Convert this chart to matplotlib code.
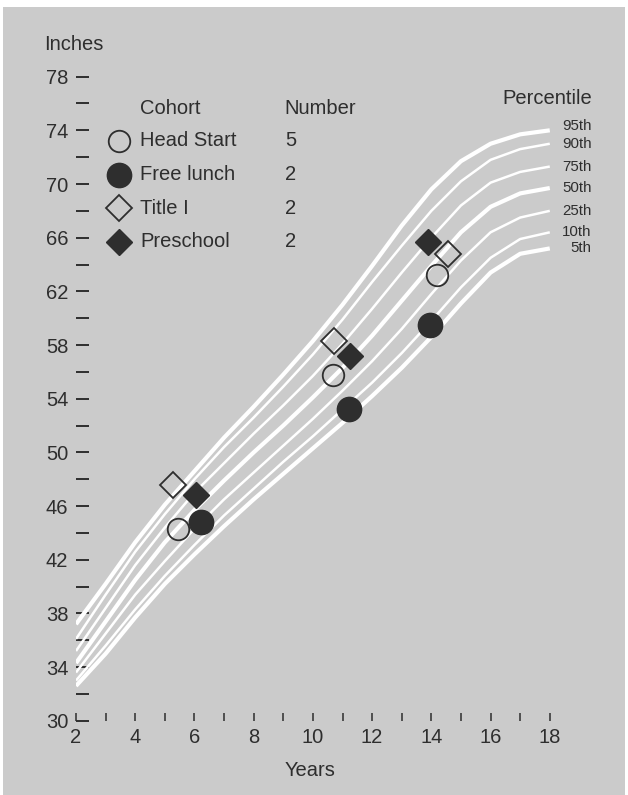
import numpy as np
import matplotlib
matplotlib.use("Agg")
import matplotlib.pyplot as plt
from matplotlib.patches import Rectangle

plt.rcParams["font.family"] = ["Liberation Sans", "DejaVu Sans"]

# growth reference curves (inches)
ages = [2, 3, 4, 5, 6, 7, 8, 9, 10, 11, 12, 13, 14, 15, 16, 17, 18]
pct_labels = ["95th", "90th", "75th", "50th", "25th", "10th", "5th"]
p95 = [37.2, 40.2, 43.3, 46.1, 48.6, 51.1, 53.4, 55.8, 58.3, 61.0, 63.9, 66.9, 69.6, 71.7, 73.0, 73.7, 74.0]
p90 = [36.1, 39.4, 42.6, 45.4, 48.0, 50.4, 52.6, 54.9, 57.3, 59.9, 62.7, 65.4, 68.0, 70.2, 71.8, 72.6, 73.0]
p75 = [35.2, 38.4, 41.6, 44.4, 47.0, 49.2, 51.4, 53.5, 55.7, 58.1, 60.7, 63.4, 66.0, 68.4, 70.1, 70.9, 71.3]
p50 = [34.3, 37.4, 40.5, 43.3, 45.7, 47.9, 50.0, 52.0, 54.1, 56.3, 58.7, 61.3, 63.9, 66.4, 68.3, 69.3, 69.7]
p25 = [33.6, 36.5, 39.4, 41.9, 44.3, 46.5, 48.5, 50.5, 52.5, 54.6, 56.8, 59.2, 61.8, 64.3, 66.4, 67.5, 68.0]
p10 = [33.0, 35.6, 38.3, 40.8, 43.1, 45.3, 47.3, 49.3, 51.2, 53.2, 55.2, 57.4, 59.8, 62.3, 64.5, 65.9, 66.4]
p05 = [32.6, 35.0, 37.7, 40.2, 42.4, 44.5, 46.5, 48.4, 50.3, 52.2, 54.2, 56.3, 58.6, 61.1, 63.4, 64.8, 65.2]

# cohorts: (age, height) at the three measurement points
cohorts = ["Head Start", "Free lunch", "Title I", "Preschool"]
counts = [5, 2, 2, 2]
hs_age = [5.45, 10.68, 14.20]
hs_ht = [44.3, 55.8, 63.2]
fl_age = [6.22, 11.22, 13.96]
fl_ht = [44.8, 53.2, 59.5]
t1_age = [5.28, 10.72, 14.57]
t1_ht = [47.6, 58.3, 64.8]
ps_age = [6.05, 11.26, 13.89]
ps_ht = [46.8, 57.2, 65.7]

BG = "#cbcbcb"
INK = "#2e2e2e"
W, H = 628, 795

def fx(px):
    return px / W

def fy(py):
    return 1 - py / H

fig = plt.figure(figsize=(W / 100, H / 100), dpi=100, facecolor="white")
fig.patches.append(Rectangle((fx(3), 0), fx(622), fy(7), transform=fig.transFigure,
                             facecolor=BG, edgecolor="none", zorder=-10))

ax = fig.add_axes([fx(76), fy(720.8), fx(609 - 76), (720.8 - 49.8) / H])
ax.patch.set_visible(False)
ax.set_xlim(2, 20)
ax.set_ylim(30, 80)
for s in ax.spines.values():
    s.set_visible(False)

curves = [p95, p90, p75, p50, p25, p10, p05]
widths = [3.0, 1.8, 1.8, 3.0, 1.8, 1.8, 3.0]
label_nudge = [0.3, 0.0, 0.0, 0.0, 0.0, 0.0, 0.0]  # keeps the top two labels apart
for vals, lw, lab, dy in zip(curves, widths, pct_labels, label_nudge):
    ax.plot(ages, vals, color="white", lw=lw, solid_capstyle="butt",
            solid_joinstyle="round", zorder=2)
    ax.text(19.42, vals[-1] + dy, lab, ha="right", va="center", fontsize=10.8,
            color=INK)
ax.text(19.42, 76.4, "Percentile", ha="right", va="center", fontsize=14.5, color=INK)

open_kw = dict(mfc="none", mec=INK, mew=1.3, ls="none", zorder=3)
fill_kw = dict(mfc=INK, mec=INK, mew=1.0, ls="none", zorder=3)
ax.plot(hs_age, hs_ht, marker="o", ms=15.5, **open_kw)
ax.plot(fl_age, fl_ht, marker="o", ms=17.5, **fill_kw)
ax.plot(t1_age, t1_ht, marker="D", ms=13.0, **open_kw)
ax.plot(ps_age, ps_ht, marker="D", ms=13.0, **fill_kw)

ax.set_xticks(np.arange(2, 19, 2))
ax.set_xticks(np.arange(3, 18, 2), minor=True)
ax.set_yticks(np.arange(30, 79, 4))
ax.set_yticks(np.arange(32, 77, 4), minor=True)
ax.tick_params(axis="x", which="both", direction="in", length=6, width=1.1,
               color=INK, labelsize=14.5, labelcolor=INK, pad=5)
ax.tick_params(axis="y", which="both", direction="in", length=9.5, width=1.4,
               color=INK, labelsize=14.5, labelcolor=INK, pad=5.5)

fig.text(fx(44), fy(45), "Inches", ha="left", va="center", fontsize=14.5, color=INK)
fig.text(fx(310), fy(770), "Years", ha="center", va="center", fontsize=14.5, color=INK)

# legend block
fig.text(fx(140), fy(108), "Cohort", ha="left", va="center", fontsize=14.5, color=INK)
fig.text(fx(284), fy(108), "Number", ha="left", va="center", fontsize=14.5, color=INK)
legend_marks = [("o", open_kw, 15.5), ("o", fill_kw, 17.5), ("D", open_kw, 13.0), ("D", fill_kw, 13.0)]
for i, (name, n, (m, kw, ms)) in enumerate(zip(cohorts, counts, legend_marks)):
    py = 141 + i * 33.5
    fig.text(fx(140), fy(py), name, ha="left", va="center", fontsize=14.5, color=INK)
    fig.text(fx(285), fy(py), str(n), ha="left", va="center", fontsize=14.5, color=INK)
    kw2 = dict(kw)
    kw2["zorder"] = 5
    fig.add_artist(plt.Line2D([fx(119)], [fy(py)], marker=m, ms=ms,
                              transform=fig.transFigure, **kw2))

fig.savefig("out.png", dpi=100, facecolor="white")
